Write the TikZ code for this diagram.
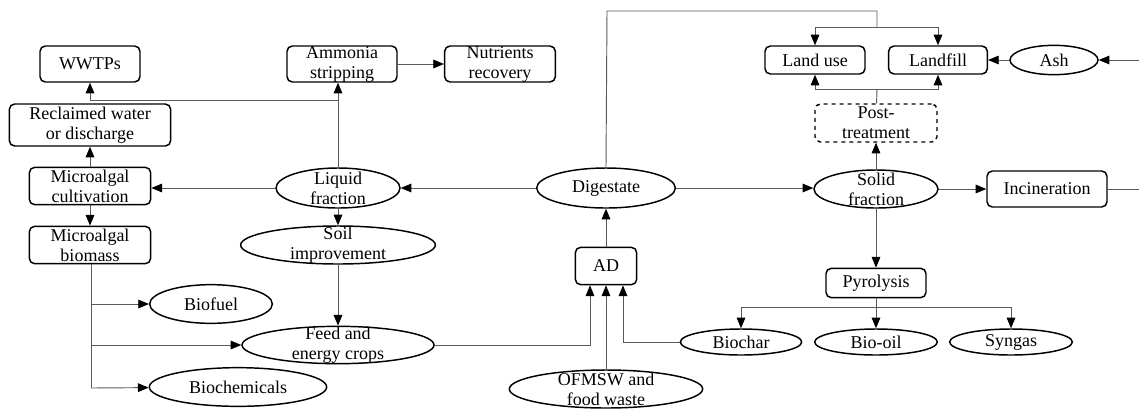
\documentclass[tikz,border=0pt]{standalone}
\usepackage{fontspec}
\setmainfont{Liberation Serif}
\usetikzlibrary{shapes.geometric,arrows.meta,calc}

\begin{document}
\begin{tikzpicture}[x=0.75pt,y=-0.75pt,
  font=\fontsize{13.5}{15}\selectfont,
  box/.style={draw,line width=1.1pt,rounded corners=4pt,inner sep=0pt},
  ell/.style={draw,ellipse,line width=1.1pt,inner sep=0pt},
  txt/.style={label={[align=center,inner sep=0pt]center:#1}},
  link/.style={draw=black!65,line width=0.7pt},
  arr/.style={link,-{Triangle[length=8pt,width=6.5pt,black]}}]

\useasboundingbox (0,0) rectangle (1139,408);

% left part
\node[box,minimum width=75pt,minimum height=27pt,txt=WWTPs] (wwtp) at (90,64) {};
\node[box,minimum width=121pt,minimum height=31.5pt,txt={Reclaimed water\\or discharge}] (recl) at (90,125) {};
\node[box,minimum width=91pt,minimum height=28pt,txt={Microalgal\\cultivation}] (cult) at (90,186) {};
\node[box,minimum width=91pt,minimum height=28pt,txt={Microalgal\\biomass}] (bmass) at (90,245) {};
\node[ell,minimum width=92pt,minimum height=29pt,txt=Biofuel] (fuel) at (211,304) {};
\node[ell,minimum width=133pt,minimum height=29pt,txt=Biochemicals] (chem) at (238,387) {};

\node[box,minimum width=82.5pt,minimum height=27pt,txt={Ammonia\\stripping}] (amm) at (342,64) {};
\node[box,minimum width=83pt,minimum height=27pt,txt={Nutrients\\recovery}] (nutr) at (500,64) {};
\node[ell,minimum width=93pt,minimum height=30pt,txt={Liquid\\fraction}] (liq) at (338,188) {};
\node[ell,minimum width=146pt,minimum height=28.5pt,txt={Soil\\improvement}] (soil) at (338,245) {};
\node[ell,minimum width=144pt,minimum height=28pt,txt={Feed and\\energy crops}] (feed) at (338,345) {};

% middle part
\node[ell,minimum width=104pt,minimum height=30pt,txt=Digestate] (dig) at (606,188) {};
\node[box,minimum width=46pt,minimum height=28pt,txt=AD] (ad) at (606,266) {};
\node[ell,minimum width=145pt,minimum height=28.5pt,txt={OFMSW and\\food waste}] (ofmsw) at (606,389) {};

% right part
\node[box,minimum width=75pt,minimum height=21pt,txt={Land use}] (luse) at (815,60) {};
\node[box,minimum width=74pt,minimum height=21pt,txt=Landfill] (lfill) at (938,60) {};
\node[ell,minimum width=66pt,minimum height=22pt,txt=Ash] (ash) at (1054,60) {};
\node[box,dashed,minimum width=91.5pt,minimum height=28.5pt,txt={Post-\\treatment}] (post) at (876,123) {};
\node[ell,minimum width=93pt,minimum height=28.5pt,txt={Solid\\fraction}] (sol) at (876,189) {};
\node[box,minimum width=90pt,minimum height=27pt,txt=Incineration] (inc) at (1047,189) {};
\node[box,minimum width=75pt,minimum height=22pt,txt=Pyrolysis] (pyr) at (876,283) {};
\node[ell,minimum width=91pt,minimum height=19.5pt,txt=Biochar] (char) at (741,342) {};
\node[ell,minimum width=92pt,minimum height=19.5pt,txt=Bio-oil] (oil) at (876,342) {};
\node[ell,minimum width=92pt,minimum height=19.5pt,txt=Syngas] (gas) at (1011,342) {};

\coordinate (w1) at (338,100);
\coordinate (t1) at (607,11);
\coordinate (t2) at (877,27);
\coordinate (p1) at (877,89);
\coordinate (y1) at (876,307);
\coordinate (m1) at (91,388);
\coordinate (r1) at (1139,189);
\coordinate (r2) at (1139,60);

% connectors
\draw[arr] (liq.west) -- (liq.west -| cult.east);
\draw[arr] (cult) -- (recl);
\draw[arr] (cult) -- (bmass);
\draw[arr] (liq) -- (liq |- amm.south);
\draw[arr] (w1) -| (wwtp.south);
\draw[arr] (amm) -- (nutr);
\draw[arr] (liq) -- (soil);
\draw[arr] (soil) -- (feed);
\draw[link] (bmass.south -| m1) -- (m1);
\draw[arr] (m1 |- fuel) -- (fuel);
\draw[arr] (m1 |- feed) -- (feed);
\draw[arr] (m1) -- (chem);

\draw[arr] (dig) -- (liq);
\draw[arr] (dig.east) -- (dig.east -| sol.west);
\draw[arr] (ad) -- (dig);
\draw[arr] (ofmsw) -- (ad);
\draw[arr] (feed.east) -| ($(ad.south)+(-16,0)$);
\draw[arr] (char.west) -| ($(ad.south)+(17,0)$);

\draw[link] (dig.north) -- (t1) -| (t2);
\draw[arr] (t2) -| (luse.north);
\draw[arr] (t2) -| (lfill.north);
\draw[link] (post) -- (p1);
\draw[arr] (p1) -| (luse.south);
\draw[arr] (p1) -| (lfill.south);
\draw[arr] (sol) -- (post);
\draw[arr] (r2) -- (ash);
\draw[arr] (ash) -- (lfill);
\draw[arr] (sol) -- (inc);
\draw[link] (inc) -- (r1);
\draw[arr] (sol) -- (pyr);
\draw[link] (pyr) -- (y1);
\draw[arr] (y1) -- (oil);
\draw[arr] (y1) -| (char.north);
\draw[arr] (y1) -| (gas.north);

\end{tikzpicture}
\end{document}
